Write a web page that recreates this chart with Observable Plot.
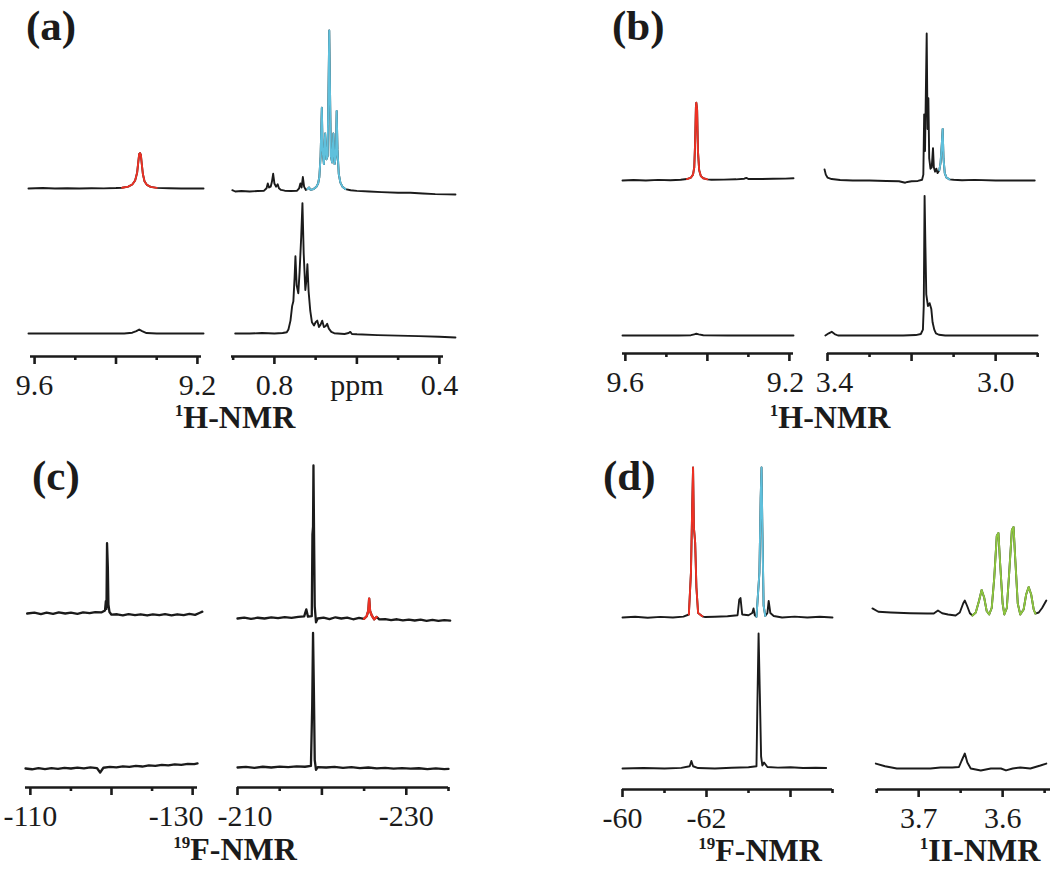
<!DOCTYPE html>
<html>
<head>
<meta charset="utf-8">
<script src="https://cdn.jsdelivr.net/npm/d3@7"></script>
<script src="https://cdn.jsdelivr.net/npm/@observablehq/plot@0.6"></script>
<style>
  html, body { margin: 0; padding: 0; background: #fff; }
  #fig { position: relative; width: 1050px; height: 869px; overflow: hidden; background: #fff; }
  #fig svg { overflow: visible; background: transparent; }
  #fig svg text { font-family: "Liberation Serif", "Times New Roman", serif; }
</style>
</head>
<body>
<div id="fig"></div>
<script>
// ================= DATA =================
// Each spectrum: [chemical shift (ppm), relative intensity (tallest peak of the panel = 100)]

// ---- Panel (a): 1H-NMR ----
const aTopLeft = [[9.615,0],[9.58,0.3],[9.55,0],[9.52,0.2],[9.49,0],[9.46,0.2],[9.43,0.1],[9.40,0.3],[9.385,0.5],[9.37,1.2],[9.36,2.5],[9.353,5],[9.348,10],[9.345,17],[9.343,21.5],[9.341,22],[9.339,21],[9.337,16],[9.334,9],[9.33,4.5],[9.324,2.2],[9.315,1],[9.30,0.4],[9.27,0.2],[9.24,0],[9.21,0.1],[9.185,0]];
const aBottomLeft = [[9.615,0],[9.55,0],[9.45,0],[9.38,0],[9.36,0.5],[9.35,1.5],[9.343,2.5],[9.336,1.5],[9.325,0.3],[9.30,0],[9.185,0]];
const aTopRight = [[0.902,0.8],[0.895,0],[0.88,0.3],[0.86,0],[0.84,0.3],[0.825,0.5],[0.819,2],[0.816,5],[0.813,2.5],[0.809,3],[0.806,6],[0.803,11],[0.800,5],[0.796,3],[0.792,4.5],[0.789,2],[0.784,1],[0.775,0.5],[0.76,0.3],[0.745,0.5],[0.74,2],[0.737,5],[0.734,2.5],[0.731,9],[0.728,3],[0.724,1],[0.720,1.5],[0.716,2.5],[0.712,1],[0.705,1.5],[0.698,3],[0.694,5],[0.691,9],[0.688,22],[0.685,52],[0.683,25],[0.680,17],[0.677,36],[0.674,20],[0.671,22],[0.669,60],[0.667,100],[0.665,60],[0.663,22],[0.660,18],[0.657,36],[0.654,17],[0.651,22],[0.649,50],[0.647,26],[0.644,11],[0.640,5.5],[0.635,3],[0.628,1.5],[0.615,0.8],[0.60,0.4],[0.57,0],[0.54,-0.4],[0.50,-0.8],[0.47,-0.8],[0.44,-1.2],[0.41,-1.6],[0.38,-1.8],[0.361,-1.9]];
const aBottomRight = [[0.895,0],[0.86,0],[0.83,0.3],[0.80,0],[0.78,0.3],[0.77,0.8],[0.766,2.5],[0.761,8],[0.757,17],[0.754,20],[0.751,35],[0.749,48],[0.746,30],[0.742,25],[0.739,38],[0.735,60],[0.732,81],[0.729,50],[0.725,27],[0.722,34],[0.720,43],[0.717,26],[0.713,14],[0.709,7],[0.704,5],[0.700,7],[0.696,8],[0.692,4],[0.688,5.5],[0.684,8],[0.680,4],[0.676,4.5],[0.672,6],[0.668,3],[0.662,1],[0.655,0.2],[0.63,-0.3],[0.62,0.3],[0.616,1],[0.612,-0.3],[0.60,-0.5],[0.55,-1],[0.50,-1.3],[0.45,-1.6],[0.40,-2],[0.361,-2.5]];

// ---- Panel (b): 1H-NMR ----
const bTopLeft = [[9.607,0],[9.58,0.3],[9.55,0],[9.52,0.4],[9.49,0.2],[9.465,0.5],[9.45,1],[9.44,2],[9.435,4],[9.432,9],[9.430,25],[9.428,50],[9.427,53],[9.425,48],[9.423,20],[9.420,7],[9.416,3],[9.41,1.5],[9.40,0.8],[9.39,0.5],[9.36,0.6],[9.33,0.8],[9.31,1.2],[9.305,1.8],[9.30,1],[9.27,1],[9.24,1.2],[9.21,1.3],[9.19,1.5]];
const bBottomLeft = [[9.607,0],[9.55,0],[9.47,0],[9.44,0.2],[9.432,0.8],[9.427,1.2],[9.421,0.8],[9.41,0.2],[9.35,0],[9.25,0],[9.19,0]];
const bTopRight = [[3.407,7.5],[3.404,4],[3.400,2],[3.39,1],[3.37,0.3],[3.34,0],[3.30,0],[3.26,-0.3],[3.23,-0.5],[3.215,-1.5],[3.21,-1],[3.20,-0.5],[3.185,-0.3],[3.175,0.5],[3.172,4],[3.170,45],[3.168,20],[3.166,60],[3.164,100],[3.162,35],[3.160,56],[3.158,15],[3.155,8],[3.152,9],[3.149,22],[3.147,9],[3.144,6],[3.141,8],[3.138,5],[3.134,7],[3.131,12],[3.128,25],[3.126,35],[3.124,15],[3.121,5],[3.117,2],[3.11,0.8],[3.10,0.5],[3.08,0.2],[3.05,0.4],[3.0,0],[2.95,0],[2.907,0]];
const bBottomRight = [[3.405,0],[3.397,1.5],[3.390,2.5],[3.383,1],[3.375,0],[3.30,0],[3.22,0],[3.19,0.3],[3.178,1],[3.173,4],[3.171,20],[3.169,95],[3.167,60],[3.165,28],[3.161,20],[3.157,22],[3.153,18],[3.150,9],[3.146,4],[3.142,1.5],[3.135,0.5],[3.12,0],[3.0,0],[2.90,0]];

// ---- Panel (c): 19F-NMR ----
const cTopLeft = [[-109.6,0],[-110.5,0.6],[-111.3,-0.4],[-112,0.5],[-112.8,-0.3],[-113.5,0.7],[-114.3,0],[-115,0.6],[-115.8,-0.2],[-116.5,0.8],[-117.3,0.2],[-118,0.9],[-118.8,0.8],[-119.2,2],[-119.3,8],[-119.38,3],[-119.45,46],[-119.55,30],[-119.62,6],[-119.75,1],[-120,-0.8],[-120.7,-0.5],[-121.4,-1.2],[-122.1,-0.4],[-122.9,-1],[-123.6,-0.5],[-124.4,-1.3],[-125.1,-0.6],[-125.9,-1],[-126.6,-0.4],[-127.4,-1.2],[-128.1,-0.5],[-128.9,-1.1],[-129.6,-0.3],[-130.3,-0.9],[-130.9,0.5],[-131.2,1.2]];
const cBottomLeft = [[-109.4,0],[-110.2,-0.5],[-111,0.3],[-111.8,-0.4],[-112.6,0.2],[-113.4,-0.3],[-114.2,0.4],[-115,0],[-115.8,0.6],[-116.6,0.1],[-117.4,0.7],[-118.2,0.3],[-118.6,-2.6],[-119,0.5],[-119.8,1],[-120.6,0.7],[-121.4,1.4],[-122.2,1],[-123,1.7],[-123.8,1.3],[-124.6,2],[-125.4,1.7],[-126.2,2.4],[-127,2],[-127.8,2.7],[-128.6,2.4],[-129.4,3],[-130.2,2.9],[-130.6,3.4]];
const cTopRight = [[-210,0],[-210.8,0.6],[-211.6,-0.3],[-212.4,0.5],[-213.2,0],[-214,0.8],[-214.8,0.2],[-215.6,0.9],[-216.4,0.4],[-217.2,1.1],[-217.9,1.4],[-218.15,6],[-218.35,1.2],[-218.8,1.5],[-218.88,55],[-218.95,60],[-219.0,100],[-219.07,55],[-219.15,8],[-219.3,-2.5],[-219.5,0],[-220.2,0.6],[-220.9,-0.4],[-221.6,0.8],[-222.3,0],[-223,0.6],[-223.7,-0.5],[-224.4,0.4],[-225,-0.2],[-225.3,1.5],[-225.5,5],[-225.6,13],[-225.7,5],[-225.9,2],[-226.2,-0.5],[-226.5,1],[-226.8,-0.6],[-227.5,-0.4],[-228.2,-1],[-228.9,-0.5],[-229.6,-1.2],[-230.3,-0.7],[-231,-1.3],[-231.7,-0.8],[-232.4,-1.5],[-233.1,-0.9],[-233.8,-1.5],[-234.5,-1],[-235.2,-1.4]];
const cBottomRight = [[-210,0],[-211,0.4],[-212,-0.2],[-213,0.5],[-214,0],[-215,0.6],[-216,0.2],[-217,0.7],[-218,0.5],[-218.7,1],[-218.85,40],[-218.95,88],[-219.05,50],[-219.15,5],[-219.3,-1.5],[-219.5,0.3],[-220.5,0],[-221.5,0.4],[-222.5,-0.2],[-223.5,0.3],[-224.5,-0.4],[-225.5,0],[-226.5,-0.6],[-227.5,-0.2],[-228.5,-0.8],[-229.5,-0.4],[-230.5,-0.8],[-231.5,-0.5],[-232.5,-1],[-233.5,-0.6],[-234.5,-1],[-235,-0.9]];

// ---- Panel (d): 19F-NMR (left) and 1H-NMR (right) ----
const dTopLeft = [[-60,0],[-60.3,0.5],[-60.6,-0.2],[-60.9,0.4],[-61.2,0],[-61.45,0.6],[-61.58,2],[-61.63,30],[-61.66,75],[-61.68,100],[-61.7,60],[-61.73,50],[-61.76,20],[-61.8,3],[-61.9,0.8],[-61.97,0.3],[-62.2,0.5],[-62.5,0.8],[-62.74,1.5],[-62.78,12],[-62.81,13],[-62.85,2],[-63.0,1.5],[-63.09,3],[-63.12,6],[-63.15,1.5],[-63.19,0.5],[-63.26,30],[-63.29,80],[-63.31,100],[-63.33,60],[-63.36,8],[-63.4,1],[-63.45,3],[-63.48,11],[-63.52,3],[-63.6,1],[-63.8,0],[-64.1,0.6],[-64.4,0],[-64.7,0.5],[-65,0]];
const dBottomLeft = [[-60,0],[-60.5,0.3],[-61,0],[-61.4,0.4],[-61.6,1.5],[-61.64,5],[-61.68,1.5],[-61.8,0.3],[-62.2,0],[-62.6,0.5],[-63.0,0.8],[-63.19,1.5],[-63.21,40],[-63.24,90],[-63.27,50],[-63.3,8],[-63.33,2],[-63.37,4],[-63.45,1],[-63.7,0.6],[-64,0.8],[-64.3,0.3],[-64.6,0.5],[-64.85,0.3]];
const dTopRight = [[3.755,4.7],[3.748,2.5],[3.733,2],[3.71,1.5],[3.69,1.3],[3.682,1.3],[3.677,3.3],[3.672,1.5],[3.665,0.7],[3.656,0],[3.651,2],[3.647,8],[3.645,10],[3.642,6],[3.639,1.5],[3.636,0],[3.632,2],[3.628,10],[3.625,17],[3.622,12],[3.619,3],[3.616,0.7],[3.613,5],[3.610,25],[3.607,53],[3.605,55],[3.603,35],[3.600,8],[3.598,0.7],[3.595,5],[3.592,30],[3.589,57],[3.587,59],[3.585,38],[3.582,8],[3.579,0.7],[3.575,4],[3.572,14],[3.569,19],[3.566,14],[3.563,4],[3.561,1.3],[3.557,2],[3.553,5],[3.548,10]];
const dBottomRight = [[3.751,3.3],[3.74,1.5],[3.726,0],[3.70,0],[3.686,0],[3.674,0.7],[3.66,0.7],[3.652,1],[3.649,5],[3.645,10],[3.642,4],[3.638,0],[3.626,-1.3],[3.614,0],[3.602,0],[3.596,-1.3],[3.588,0],[3.579,0.7],[3.567,0],[3.555,2],[3.548,3.3]];

// Assigned signals highlighted in colour (ppm range, signal key)
const highlights = [
  {spectrum: "aTopLeft",  from: 9.385,  to: 9.30,   signal: "A"},
  {spectrum: "aTopRight", from: 0.722,  to: 0.628,  signal: "B"},
  {spectrum: "bTopLeft",  from: 9.461,  to: 9.393,  signal: "A"},
  {spectrum: "bTopRight", from: 3.136,  to: 3.108,  signal: "B"},
  {spectrum: "cTopRight", from: -224.9, to: -226.6, signal: "A"},
  {spectrum: "dTopLeft",  from: -61.5,  to: -61.95, signal: "A"},
  {spectrum: "dTopLeft",  from: -63.19, to: -63.42, signal: "B"},
  {spectrum: "dTopRight", from: 3.636,  to: 3.561,  signal: "C"}
];

// Tick values
const aLeftMajor = [9.6, 9.4, 9.2], aLeftMinor = [9.5, 9.3], aLeftLabels = [9.6, 9.2];
const aRightMajor = [0.8, 0.6, 0.4], aRightMinor = [0.9, 0.7, 0.5], aRightLabels = [0.8, 0.6, 0.4];
const bLeftMajor = [9.6, 9.4, 9.2], bLeftMinor = [9.5, 9.3], bLeftLabels = [9.6, 9.2];
const bRightMajor = [3.4, 3.2, 3.0], bRightMinor = [3.3, 3.1, 2.9], bRightLabels = [3.4, 3.0];
const cLeftMajor = [-110, -120, -130], cLeftMinor = [-115, -125], cLeftLabels = [-110, -130];
const cRightMajor = [-210, -220, -230], cRightMinor = [-215, -225, -235], cRightLabels = [-210, -230];
const dLeftMajor = [-60, -62, -64], dLeftMinor = [-61, -63, -65], dLeftLabels = [-60, -62];
const dRightMajor = [3.7, 3.6], dRightMinor = [3.75, 3.65, 3.55], dRightLabels = [3.7, 3.6];

const panelLabels = ["(a)", "(b)", "(c)", "(d)"];
const nucleusTitles = [
  {sup: "1",  text: "H-NMR"},
  {sup: "1",  text: "H-NMR"},
  {sup: "19", text: "F-NMR"},
  {sup: "19", text: "F-NMR"},
  {sup: "1",  text: "II-NMR"}
];
const unitLabel = "ppm";

// ================= RENDERING =================
const INK = "#1b1b1b";
const SERIF = "'Liberation Serif', 'Times New Roman', serif";
const signalColors = {domain: ["A", "B", "C"], range: ["#ee3124", "#5fc0dc", "#8dc63f"]};
const fig = document.getElementById("fig");
const spectra = {aTopLeft, aBottomLeft, aTopRight, aBottomRight, bTopLeft, bBottomLeft, bTopRight, bBottomRight,
                 cTopLeft, cBottomLeft, cTopRight, cBottomRight, dTopLeft, dBottomLeft, dTopRight, dBottomRight};

const f1 = d => d3.format(".1f")(d);
const f0 = d => String(d);

function drawSub(c) {
  const mL = 50, mR = 50, mB = 60;
  const frameH = c.axisY - c.top;
  const marks = [
    Plot.ruleY([0], {stroke: INK, strokeWidth: 2.6}),
    Plot.axisX({ticks: c.major, tickSize: 8, tickFormat: () => "", stroke: INK, strokeWidth: 2.6, label: null}),
    Plot.axisX({ticks: c.minor, tickSize: 4, tickFormat: () => "", stroke: INK, strokeWidth: 2.6, label: null})
  ];
  for (const s of c.spectra) {
    const data = spectra[s.name];
    const y = d => s.base + d[1] * c.k;
    marks.push(Plot.line(data, {x: d => d[0], y, stroke: INK, strokeWidth: c.sw || 1.9, strokeLinejoin: "round"}));
    for (const h of highlights.filter(h => h.spectrum === s.name)) {
      marks.push(Plot.line(data.filter(d => d[0] <= h.from && d[0] >= h.to),
        {x: d => d[0], y, stroke: () => h.signal, strokeWidth: c.sw || 1.9, strokeLinejoin: "round"}));
    }
  }
  for (const v of c.labels) {
    const tw = (c.tweaks && c.tweaks[v]) || {};
    marks.push(Plot.text([v], {x: d => d, text: c.fmt, frameAnchor: "bottom", dy: 38, dx: tw.dx || 0,
      textAnchor: tw.anchor || "middle", lineAnchor: "bottom", fontSize: 30, fontFamily: SERIF, fill: INK}));
  }
  const svg = Plot.plot({
    width: c.px1 - c.px0 + mL + mR,
    height: frameH + mB,
    marginLeft: mL, marginRight: mR, marginTop: 0, marginBottom: mB,
    x: {domain: c.domain},
    y: {domain: [0, frameH], axis: null},
    color: signalColors,
    style: {background: "transparent", overflow: "visible", fontFamily: SERIF},
    marks
  });
  svg.style.position = "absolute";
  svg.style.left = (c.px0 - mL) + "px";
  svg.style.top = c.top + "px";
  fig.appendChild(svg);
}

// (a)
drawSub({px0: 30, px1: 201, domain: [9.61, 9.19], axisY: 356, top: 0, k: 1.61,
  spectra: [{name: "aTopLeft", base: 168}, {name: "aBottomLeft", base: 23}],
  major: aLeftMajor, minor: aLeftMinor, labels: aLeftLabels, fmt: f1});
drawSub({px0: 231, px1: 443, domain: [0.904, 0.39], axisY: 356, top: 0, k: 1.61,
  spectra: [{name: "aTopRight", base: 165}, {name: "aBottomRight", base: 23}],
  major: aRightMajor, minor: aRightMinor, labels: aRightLabels,
  fmt: d => (d === 0.6 ? unitLabel : f1(d))});
// (b)
drawSub({px0: 622, px1: 793, domain: [9.607, 9.19], axisY: 353, top: 0, k: 1.47,
  spectra: [{name: "bTopLeft", base: 173}, {name: "bBottomLeft", base: 18}],
  major: bLeftMajor, minor: bLeftMinor, labels: bLeftLabels, fmt: f1, tweaks: {"9.2": {dx: -4}}});
drawSub({px0: 827, px1: 1038, domain: [3.4, 2.898], axisY: 353, top: 0, k: 1.47,
  spectra: [{name: "bTopRight", base: 173}, {name: "bBottomRight", base: 18}],
  major: bRightMajor, minor: bRightMinor, labels: bRightLabels, fmt: f1, tweaks: {"3.4": {dx: 7}}});
// (c)
drawSub({px0: 25, px1: 197, domain: [-109.4, -130.6], axisY: 787, top: 435, k: 1.53, sw: 2.3,
  spectra: [{name: "cTopLeft", base: 174}, {name: "cBottomLeft", base: 19}],
  major: cLeftMajor, minor: cLeftMinor, labels: cLeftLabels, fmt: f0,
  tweaks: {"-130": {anchor: "end", dx: 11}}});
drawSub({px0: 237, px1: 448, domain: [-210, -235], axisY: 787, top: 435, k: 1.53, sw: 2.3,
  spectra: [{name: "cTopRight", base: 169}, {name: "cBottomRight", base: 20}],
  major: cRightMajor, minor: cRightMinor, labels: cRightLabels, fmt: f0,
  tweaks: {"-210": {anchor: "start", dx: -20}}});
// (d)
drawSub({px0: 622, px1: 832, domain: [-60, -65], axisY: 789, top: 435, k: 1.5,
  spectra: [{name: "dTopLeft", base: 172}, {name: "dBottomLeft", base: 21}],
  major: dLeftMajor, minor: dLeftMinor, labels: dLeftLabels, fmt: f0});
drawSub({px0: 877, px1: 1050, domain: [3.749, 3.543], axisY: 789, top: 435, k: 1.5,
  spectra: [{name: "dTopRight", base: 174}, {name: "dBottomRight", base: 21}],
  major: dRightMajor, minor: dRightMinor, labels: dRightLabels, fmt: f1});

// ---- Text overlay: panel letters and nucleus titles ----
const NS = "http://www.w3.org/2000/svg";
const over = document.createElementNS(NS, "svg");
over.setAttribute("width", 1050); over.setAttribute("height", 869);
over.style.position = "absolute"; over.style.left = "0px"; over.style.top = "0px";
fig.appendChild(over);
const ov = d3.select(over).attr("font-family", SERIF).attr("fill", INK);

const letterPos = [[26, 40], [612, 40], [32, 490], [603, 490]];
panelLabels.forEach((t, i) => {
  ov.append("text").attr("x", letterPos[i][0]).attr("y", letterPos[i][1])
    .attr("font-size", 43).attr("font-weight", "bold").text(t);
});
const titlePos = [[235, 428], [830, 428], [235, 860], [760, 861], [980, 861]];
nucleusTitles.forEach((t, i) => {
  const tx = ov.append("text").attr("x", titlePos[i][0]).attr("y", titlePos[i][1])
    .attr("text-anchor", "middle").attr("font-size", 32).attr("font-weight", "bold");
  tx.append("tspan").attr("font-size", 17).attr("dy", -12).text(t.sup);
  tx.append("tspan").attr("dy", 12).text(t.text);
});
</script>
</body>
</html>
